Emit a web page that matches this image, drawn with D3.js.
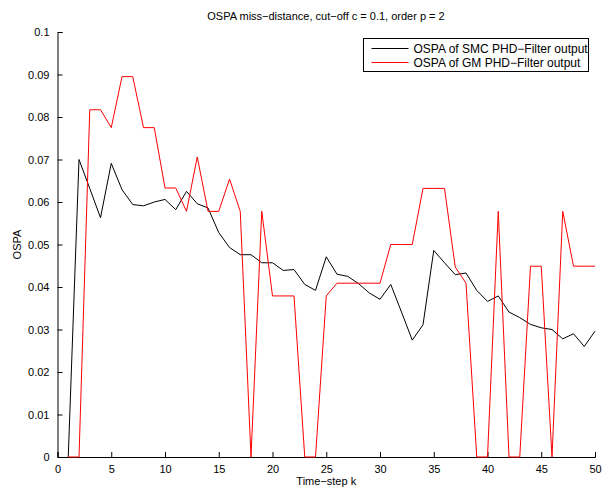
<!DOCTYPE html>
<meta charset="utf-8">
<script src="https://d3js.org/d3.v7.min.js"></script>
<style>
body { margin: 0; background: #fff; }
svg { font-family: "Liberation Sans", Arial, sans-serif; font-size: 11px; }
.axis path, .axis line { stroke: #000; }
.axis text { fill: #000; font-size: 11px; }
.legend text { font-size: 12px; }
</style>
<body>
<div id="chart"></div>
<script>

// time steps
var steps = d3.range(1, 51);

// OSPA of SMC PHD-Filter output
var smcValues = [0, 0.0700, 0.0632, 0.0563, 0.0691, 0.0629, 0.0594, 0.0591, 0.0600, 0.0606,
  0.0582, 0.0625, 0.0596, 0.0586, 0.0528, 0.0493, 0.0476, 0.0476, 0.0457, 0.0457,
  0.0439, 0.0441, 0.0406, 0.0392, 0.0471, 0.0430, 0.0425, 0.0408, 0.0386, 0.0371,
  0.0406, 0.0341, 0.0275, 0.0311, 0.0486, 0.0457, 0.0429, 0.0433, 0.0392, 0.0366,
  0.0379, 0.0341, 0.0328, 0.0312, 0.0304, 0.0300, 0.0278, 0.0290, 0.0260, 0.0296];

// OSPA of GM PHD-Filter output
var gmValues = [0, 0, 0.0817, 0.0817, 0.0775, 0.0895, 0.0895, 0.0775, 0.0775, 0.0633,
  0.0633, 0.0578, 0.0706, 0.0578, 0.0578, 0.0654, 0.0578, 0, 0.0578, 0.0379,
  0.0379, 0.0379, 0, 0, 0.0379, 0.0409, 0.0409, 0.0409, 0.0409, 0.0409,
  0.0500, 0.0500, 0.0500, 0.0632, 0.0632, 0.0632, 0.0447, 0.0409, 0, 0,
  0.0578, 0, 0, 0.0449, 0.0449, 0, 0.0578, 0.0449, 0.0449, 0.0449];

var seriesNames = ["OSPA of SMC PHD\u2212Filter output", "OSPA of GM PHD\u2212Filter output"];
var seriesColors = ["#000000", "#ff0000"];

var xTicks = [0, 5, 10, 15, 20, 25, 30, 35, 40, 45, 50];
var yTicks = [0, 0.01, 0.02, 0.03, 0.04, 0.05, 0.06, 0.07, 0.08, 0.09, 0.1];

var width = 603, height = 489;
var margin = {top: 32, right: 8, bottom: 32, left: 57.5};

var svg = d3.select("#chart").append("svg")
  .attr("width", width)
  .attr("height", height);

var x = d3.scaleLinear()
  .domain([0, 50])
  .range([margin.left, width - margin.right]);

var y = d3.scaleLinear()
  .domain([0, 0.1])
  .range([height - margin.bottom, margin.top]);

// axes, ticks pointing inwards
svg.append("g")
  .attr("class", "axis")
  .attr("transform", "translate(0," + y(0) + ")")
  .call(d3.axisBottom(x).tickValues(xTicks).tickSizeInner(-5).tickSizeOuter(-5).tickPadding(8)
    .tickFormat(d3.format("d")));

svg.append("g")
  .attr("class", "axis")
  .attr("transform", "translate(" + x(0) + ",0)")
  .call(d3.axisLeft(y).tickValues(yTicks).tickSizeInner(-5).tickSizeOuter(-5).tickPadding(8)
    .tickFormat(function(d) { return d === 0 ? "0" : d3.format(".2~f")(d); }));

// lines
var line = d3.line()
  .x(function(d, i) { return x(steps[i]); })
  .y(function(d) { return y(d); });

[smcValues, gmValues].forEach(function(vals, i) {
  svg.append("path")
    .attr("d", line(vals))
    .attr("fill", "none")
    .attr("stroke", seriesColors[i])
    .attr("stroke-width", 1)
    .attr("stroke-linejoin", "miter");
});

// title and labels
svg.append("text")
  .attr("x", 326)
  .attr("y", 20)
  .attr("text-anchor", "middle")
  .text("OSPA miss\u2212distance, cut\u2212off c = 0.1, order p = 2");

svg.append("text")
  .attr("x", x(25))
  .attr("y", 485)
  .attr("text-anchor", "middle")
  .text("Time\u2212step k");

svg.append("text")
  .attr("transform", "translate(21," + y(0.05) + ") rotate(-90)")
  .attr("text-anchor", "middle")
  .text("OSPA");

// legend
var legend = svg.append("g").attr("class", "legend").attr("transform", "translate(363.5,38.5)");
legend.append("rect")
  .attr("width", 225)
  .attr("height", 33)
  .attr("fill", "#fff")
  .attr("stroke", "#000");

seriesNames.forEach(function(name, i) {
  var ly = 10 + i * 14;
  legend.append("line")
    .attr("x1", 8).attr("x2", 45)
    .attr("y1", ly).attr("y2", ly)
    .attr("stroke", seriesColors[i]);
  legend.append("text")
    .attr("x", 50)
    .attr("y", ly + 4)
    .text(name);
});

</script>
</body>
